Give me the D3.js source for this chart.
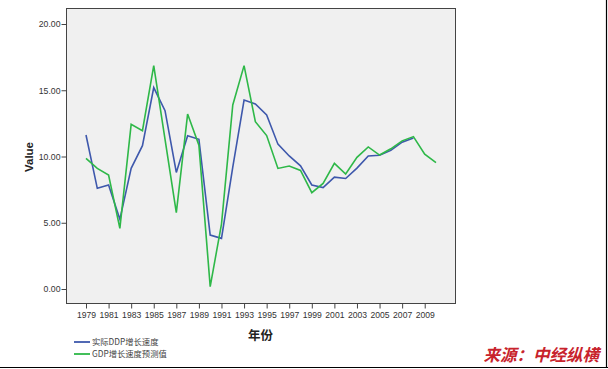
<!DOCTYPE html>
<html><head><meta charset="utf-8">
<script src="https://cdn.jsdelivr.net/npm/d3@7"></script>
<style>
html,body{margin:0;padding:0;background:#fff;}
svg{display:block;}
</style></head>
<body>
<svg id="c" width="608" height="369"></svg>
<script>
const years = d3.range(1979, 2011);
const actualGrowth = [11.62, 7.6, 7.85, 5.26, 9.11, 10.82, 15.2, 13.46, 8.8, 11.57, 11.3, 4.07, 3.82, 9.2, 14.26, 13.96, 13.13, 10.93, 10.04, 9.3, 7.85, 7.66, 8.44, 8.34, 9.12, 10.04, 10.1, 10.46, 11.08, 11.4];
const predictedGrowth = [9.86, 9.1, 8.6, 4.58, 12.43, 11.95, 16.86, 11.3, 5.76, 13.2, 10.85, 0.18, 4.9, 13.89, 16.86, 12.63, 11.58, 9.1, 9.28, 8.95, 7.27, 7.97, 9.48, 8.68, 9.94, 10.72, 10.11, 10.58, 11.18, 11.5, 10.17, 9.53];
const yTicks = [0, 5, 10, 15, 20];
const xTickYears = years.filter(y => y % 2 === 1);
const seriesNames = ["实际DDP增长速度", "GDP增长速度预测值"];
const seriesColors = ["#3e58ac", "#2eb848"];

const svg = d3.select("#c");
const F = "'Liberation Sans', Arial, sans-serif";
const CJK = "'Noto Sans CJK SC', sans-serif";

const frame = {l: 66.5, t: 8.5, r: 455.5, b: 303.5};
const x = d3.scalePoint().domain(years).range([86, 436]);
const y = d3.scaleLinear().domain([0, 20]).range([289, 24]);

// plot background + frame
svg.append("rect").attr("x", frame.l).attr("y", frame.t)
  .attr("width", frame.r - frame.l).attr("height", frame.b - frame.t)
  .attr("fill", "#f0f0f0").attr("stroke", "#444").attr("stroke-width", 1);

// y axis
const ya = svg.append("g").attr("transform", `translate(${frame.l},0)`)
  .call(d3.axisLeft(y).tickValues(yTicks).tickFormat(d3.format(".2f")).tickSize(5).tickPadding(1));
ya.select(".domain").remove();
ya.selectAll("line").attr("stroke", "#444");
ya.selectAll("text").attr("font-family", F).attr("font-size", 8.7).attr("fill", "#333");

// x axis
const xa = svg.append("g").attr("transform", `translate(0,${frame.b})`)
  .call(d3.axisBottom(x).tickValues(xTickYears).tickSize(5).tickPadding(3));
xa.select(".domain").remove();
xa.selectAll("line").attr("stroke", "#444");
xa.selectAll("text").attr("font-family", F).attr("font-size", 8.6).attr("fill", "#333");

// axis titles
svg.append("text").attr("transform", "translate(33,157) rotate(-90)")
  .attr("text-anchor", "middle").attr("font-family", F).attr("font-weight", "bold")
  .attr("font-size", 11.5).attr("fill", "#222").text("Value");
svg.append("text").attr("x", 260.5).attr("y", 340)
  .attr("text-anchor", "middle").attr("font-family", CJK).attr("font-weight", "bold")
  .attr("font-size", 12.5).attr("fill", "#222").text("年份");

// lines
const line = d3.line().x((d, i) => x(years[i])).y(d => y(d));
[actualGrowth, predictedGrowth].forEach((s, k) => {
  svg.append("path").datum(s).attr("d", line).attr("fill", "none")
    .attr("stroke", seriesColors[k]).attr("stroke-width", 1.6).attr("stroke-linejoin", "miter");
});

// legend
seriesNames.forEach((n, k) => {
  const ly = 342 + k * 12;
  svg.append("line").attr("x1", 74).attr("x2", 90).attr("y1", ly).attr("y2", ly)
    .attr("stroke", seriesColors[k]).attr("stroke-width", 1.8);
  svg.append("text").attr("x", 92).attr("y", ly + 3).attr("font-family", CJK)
    .attr("font-size", 8.3).attr("fill", "#444").text(n);
});

// source
svg.append("text").attr("x", 599).attr("y", 361).attr("text-anchor", "end")
  .attr("font-family", CJK).attr("font-weight", "bold").attr("font-style", "italic")
  .attr("font-size", 16.5).attr("fill", "#c8232c").text("来源：中经纵横");

// image border lines
svg.append("line").attr("x1", 0).attr("x2", 608).attr("y1", 367.5).attr("y2", 367.5)
  .attr("stroke", "#000").attr("stroke-width", 1.2);
svg.append("line").attr("x1", 606.5).attr("x2", 606.5).attr("y1", 0).attr("y2", 368)
  .attr("stroke", "#000").attr("stroke-width", 1.2);
</script>
</body></html>
